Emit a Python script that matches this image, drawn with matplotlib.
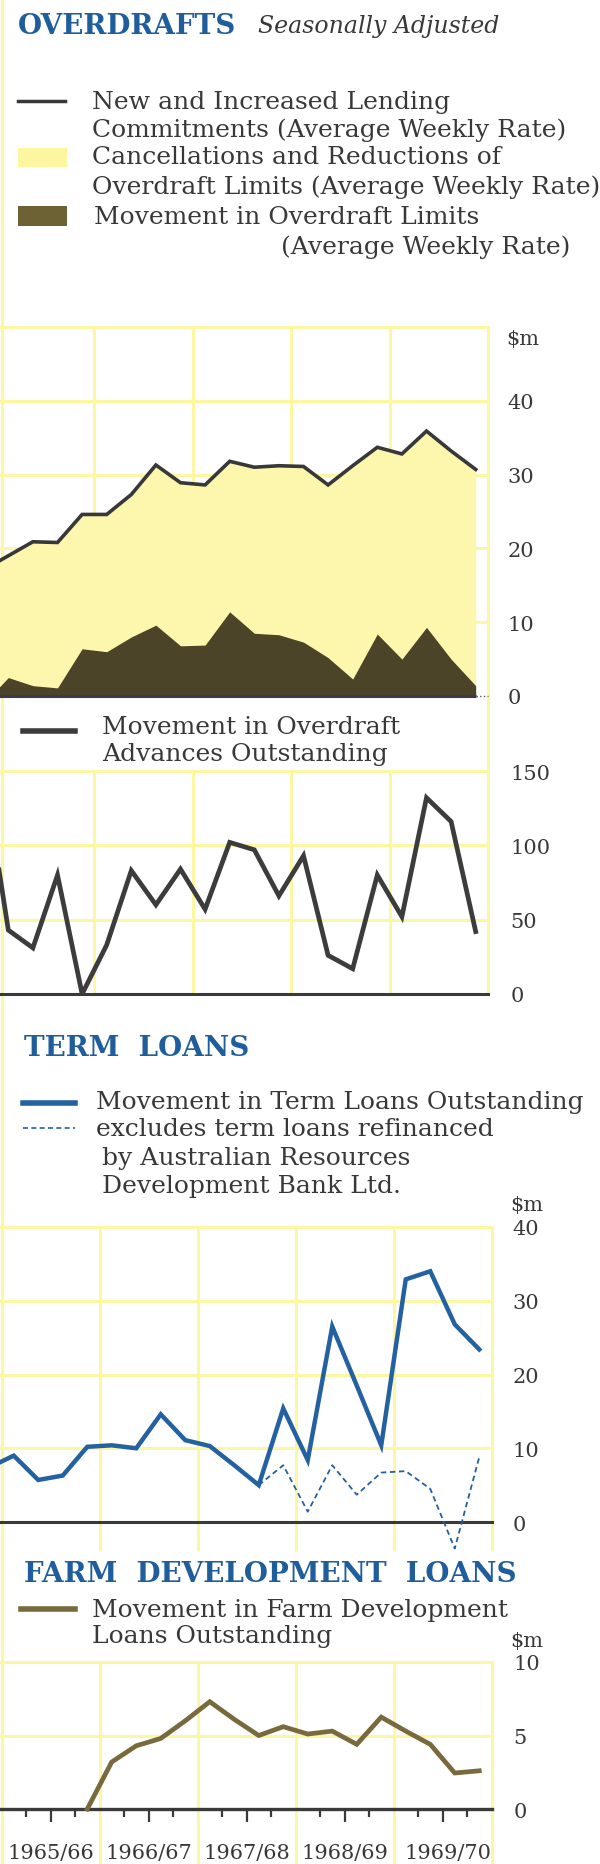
import numpy as np
import matplotlib
matplotlib.use("Agg")
import matplotlib.pyplot as plt

plt.rcParams['font.family'] = ['DejaVu Serif']

W, H = 600, 1865

# quarterly figures, June qtr 1965 (just off the left edge) then 1965/66 .. 1969/70
quarters = np.arange(-1, 20) + 0.5
years = ["1965/66", "1966/67", "1967/68", "1968/69", "1969/70"]

# overdrafts, $m (average weekly rate)
commitments = [17.1, 19.0, 20.9, 20.8, 24.6, 24.6, 27.3, 31.3, 28.9, 28.6, 31.8,
               31.0, 31.2, 31.1, 28.6, 31.2, 33.7, 32.8, 35.9, 33.2, 30.7]
limits_move = [-1.0, 2.5, 1.4, 1.1, 6.4, 6.0, 8.0, 9.6, 6.8, 6.9, 11.4,
               8.5, 8.3, 7.3, 5.2, 2.3, 8.4, 5.0, 9.3, 5.0, 1.4]
# movement in overdraft advances outstanding, $m
advances_move = [150, 43, 31, 80, 0, 33, 83, 60, 84, 57, 102,
                 97, 66, 93, 26, 17, 80, 52, 132, 116, 42]
# term loans, $m
term_loans = [7.4, 9.0, 5.7, 6.3, 10.2, 10.4, 10.0, 14.6, 11.1, 10.3, 7.7,
              5.0, 15.4, 8.4, 26.5, 18.5, 10.4, 32.9, 34.0, 26.8, 23.4]
term_ex_ardb = [np.nan] * 11 + [5.0, 7.7, 1.4, 7.7, 3.7, 6.7, 6.9, 4.5, -3.6, 8.8]
# farm development loans, $m
farm_loans = [np.nan] * 4 + [0.0, 3.2, 4.3, 4.8, 6.0, 7.3, 6.1, 5.0, 5.6, 5.1,
                             5.3, 4.4, 6.25, 5.3, 4.4, 2.45, 2.6]

GRID = '#fdf6a2'
FILL = '#fcf7ad'
DARK = '#4c4429'
INK = '#383838'
BLUE = '#1f5d9d'
LINEBLUE = '#2461a1'
OLIVE = '#786a3c'

fig = plt.figure(figsize=(W / 100, H / 100), dpi=100)

# overlay in pixel coordinates for titles and legends
ov = fig.add_axes([0, 0, 1, 1])
ov.set_xlim(0, W)
ov.set_ylim(H, 0)
ov.axis('off')


def place(x0, x1, y0, y1):
    ax = fig.add_axes([x0 / W, 1 - y1 / H, (x1 - x0) / W, (y1 - y0) / H])
    ax.patch.set_alpha(0)
    for s in ax.spines.values():
        s.set_visible(False)
    ax.tick_params(length=0, labelsize=15, labelcolor=INK)
    ax.set_xticks([])
    ax.yaxis.tick_right()
    return ax


def grid(ax, ys, ybot, ytop):
    for y in ys:
        ax.axhline(y, color=GRID, lw=2.2, zorder=0, clip_on=False)
    for q in range(4, 21, 4):
        ax.vlines(q, ybot, ytop, color=GRID, lw=2.2, zorder=0, clip_on=False)


txt = dict(fontsize=18, color=INK, va='center')

# ---------------- overdrafts ----------------
ov.text(18, 26, "OVERDRAFTS", fontsize=20, fontweight='bold', color=BLUE, va='center')
ov.text(258, 26, "Seasonally Adjusted", fontsize=17, style='italic', color=INK, va='center')
ov.plot([18, 65], [102, 102], color=INK, lw=2.5)
ov.text(92, 102, "New and Increased Lending", **txt)
ov.text(92, 130, "Commitments (Average Weekly Rate)", **txt)
ov.add_patch(plt.Rectangle((18, 149), 49, 19, color='#fcf6a0', lw=0))
ov.text(92, 158, "Cancellations and Reductions of", **txt)
ov.text(92, 187, "Overdraft Limits (Average Weekly Rate)", **txt)
ov.add_patch(plt.Rectangle((18, 207), 49, 20, color='#6c6234', lw=0))
ov.text(94, 217, "Movement in Overdraft Limits", **txt)
ov.text(281, 247, "(Average Weekly Rate)", **txt)

ax1 = place(0, 488, 328, 697)
ax1.set_xlim(4 / 24.6, 20)
ax1.set_ylim(0, 50)
grid(ax1, [10, 20, 30, 40, 50], 0, 50)
ax1.fill_between(quarters, 0, commitments, color=FILL, lw=0, zorder=1)
ax1.fill_between(quarters, 0, limits_move, color=DARK, lw=0, zorder=2)
ax1.plot(quarters, commitments, color=INK, lw=2.6, zorder=3, solid_joinstyle='miter')
ax1.hlines(0, 0, quarters[-1], color='#3a3a4a', lw=2.2, zorder=4, clip_on=False)
ax1.hlines(0, quarters[-1], 20, color='#555555', lw=1, ls=':', zorder=4, clip_on=False)
ax1.set_yticks([0, 10, 20, 30, 40])
ax1.tick_params(pad=14)
ov.text(506, 340, "$m", fontsize=15, color=INK, va='center')
ov.plot([488, 488], [697, 772], color=GRID, lw=2.2)

# ---------------- overdraft advances ----------------
ov.plot([23, 75], [732, 732], color='#3c3c3c', lw=4)
ov.text(102, 727, "Movement in Overdraft", **txt)
ov.text(102, 755, "Advances Outstanding", **txt)

ax2 = place(0, 488, 772, 995)
ax2.set_xlim(4 / 24.6, 20)
ax2.set_ylim(0, 150)
grid(ax2, [50, 100, 150], 0, 150)
ax2.plot(quarters, advances_move, color='#3c3c3c', lw=3.4, zorder=3, solid_joinstyle='miter')
ax2.axhline(0, color='#3a3a3a', lw=2.2, zorder=2, clip_on=False)
ax2.set_yticks([0, 50, 100, 150])
ax2.tick_params(pad=16)

# ---------------- term loans ----------------
ov.text(24, 1049, "TERM  LOANS", fontsize=20, fontweight='bold', color=BLUE, va='center')
ov.plot([23, 75], [1104, 1104], color=LINEBLUE, lw=4)
ov.text(96, 1102, "Movement in Term Loans Outstanding", **txt)
ov.plot([23, 75], [1129, 1129], color=LINEBLUE, lw=1.2, ls=(0, (3, 2)))
ov.text(96, 1130, "excludes term loans refinanced", **txt)
ov.text(102, 1158, "by Australian Resources", **txt)
ov.text(102, 1187, "Development Bank Ltd.", **txt)
ov.text(510, 1205, "$m", fontsize=15, color=INK, va='center')

ax3 = place(0, 491.5, 1228, 1552)
ax3.set_xlim(-1.5 / 24.5, 20)
ax3.set_ylim(-3.93, 40)
grid(ax3, [10, 20, 30, 40], -3.93, 40)
ax3.axhline(0, color='#3a3a3a', lw=2.2, zorder=2, clip_on=False)
ax3.plot(quarters, term_loans, color=LINEBLUE, lw=3.2, zorder=3, solid_joinstyle='miter')
ax3.plot(quarters, term_ex_ardb, color=LINEBLUE, lw=1.3, ls=(0, (3, 2)), zorder=3)
ax3.set_yticks([0, 10, 20, 30, 40])
ax3.tick_params(pad=15)

# ---------------- farm development loans ----------------
ov.text(24, 1575, "FARM  DEVELOPMENT  LOANS", fontsize=20, fontweight='bold', color=BLUE, va='center')
ov.plot([21, 75], [1610, 1610], color=OLIVE, lw=4)
ov.text(92, 1610, "Movement in Farm Development", **txt)
ov.text(92, 1637, "Loans Outstanding", **txt)
ov.text(510, 1642, "$m", fontsize=15, color=INK, va='center')

ax4 = place(0, 491.5, 1663, 1865)
ax4.set_xlim(-1.5 / 24.5, 20)
ax4.set_ylim(-3.74, 10)
grid(ax4, [5, 10], -3.74, 10)
ax4.axhline(0, color='#3a3a3a', lw=2.4, zorder=2, clip_on=False)
ax4.plot(quarters, farm_loans, color=OLIVE, lw=3.4, zorder=3, solid_joinstyle='miter')
ticks = np.array([q for q in range(1, 20) if q % 4 != 0])
long_ticks = ticks[ticks % 4 == 2]
short_ticks = ticks[ticks % 4 != 2]
ax4.vlines(short_ticks, -0.55, 0, color='#3a3a3a', lw=1.6)
ax4.vlines(long_ticks, -0.9, 0, color='#3a3a3a', lw=1.6)
for i, lab in enumerate(years):
    if i == len(years) - 1:
        ax4.text(4 * i + 4, -2.95, lab, fontsize=15, color=INK, ha='right', va='center')
    else:
        ax4.text(4 * i + 2, -2.95, lab, fontsize=15, color=INK, ha='center', va='center')
ax4.set_yticks([0, 5, 10])
ax4.tick_params(pad=16)

# faint left border line of the grid
ov.plot([1.5, 1.5], [0, H], color=GRID, lw=2.2)

fig.savefig("out.png", dpi=100)
